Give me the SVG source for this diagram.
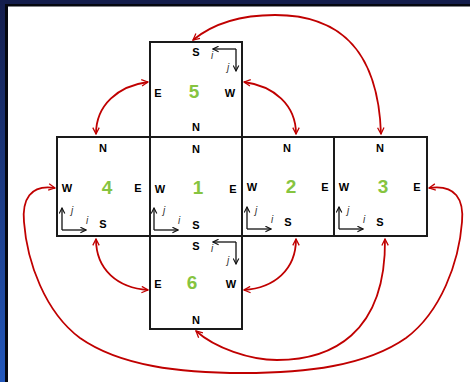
<svg xmlns="http://www.w3.org/2000/svg" width="470" height="382" viewBox="0 0 470 382">
<defs>
<linearGradient id="lg" x1="0" y1="0" x2="0" y2="1">
<stop offset="0" stop-color="#141d4c"/>
<stop offset="1" stop-color="#2358bc"/>
</linearGradient>
<marker id="ra" viewBox="0 0 10 10" refX="9" refY="5" markerWidth="8" markerHeight="8" markerUnits="userSpaceOnUse" orient="auto-start-reverse">
<path d="M1,1 L9,5 L1,9" fill="none" stroke="#c00000" stroke-width="1.6"/>
</marker>
<marker id="ka" viewBox="0 0 10 10" refX="9" refY="5" markerWidth="7" markerHeight="7" markerUnits="userSpaceOnUse" orient="auto">
<path d="M1,1 L9,5 L1,9" fill="none" stroke="#111" stroke-width="1.6"/>
</marker>
</defs>
<style>
.face{fill:#fff;stroke:#1a1a1a;stroke-width:2}
.d{font-family:"Liberation Sans",Arial,sans-serif;font-weight:bold;font-size:11px;fill:#000;text-anchor:middle}
.n{font-family:"Liberation Sans",Arial,sans-serif;font-weight:bold;font-size:19px;fill:#86c440;text-anchor:middle}
.ij{font-family:"Liberation Sans",Arial,sans-serif;font-style:italic;font-size:10px;fill:#333;text-anchor:middle}
.ax{fill:none;stroke:#111;stroke-width:1.3;marker-end:url(#ka)}
.c{fill:none;stroke:#c00000;stroke-width:1.8;marker-start:url(#ra);marker-end:url(#ra)}
</style>
<rect x="0" y="0" width="470" height="382" fill="#fff"/>
<rect x="0" y="0" width="470" height="5" fill="#141d4c"/>
<rect x="0" y="0" width="6" height="382" fill="url(#lg)"/>
<rect x="6" y="4" width="464" height="2.5" fill="#05070f"/>
<rect x="5" y="4" width="3" height="378" fill="#05070f"/>

<g id="face5">
<rect class="face" x="150" y="42" width="92" height="95"/>
<text class="d" x="196" y="56">S</text>
<text class="d" x="158" y="97">E</text>
<text class="n" x="194" y="98">5</text>
<text class="d" x="230" y="97">W</text>
<text class="d" x="196" y="131">N</text>
<path class="ax" d="M236,49 H213"/>
<path class="ax" d="M236,49 V71"/>
<text class="ij" x="212" y="59">i</text>
<text class="ij" x="228" y="71">j</text>
</g>

<g id="face4">
<rect class="face" x="57" y="137" width="93" height="99"/>
<text class="d" x="103" y="152">N</text>
<text class="d" x="67" y="192">W</text>
<text class="n" x="107" y="194">4</text>
<text class="d" x="138" y="192">E</text>
<text class="d" x="103" y="228">S</text>
<path class="ax" d="M62,230 V208"/>
<path class="ax" d="M62,230 H86"/>
<text class="ij" x="72" y="214">j</text>
<text class="ij" x="87" y="224">i</text>
</g>

<g id="face1">
<rect class="face" x="150" y="137" width="92" height="99"/>
<text class="d" x="196" y="153">N</text>
<text class="d" x="160" y="193">W</text>
<text class="n" x="198" y="194">1</text>
<text class="d" x="233" y="193">E</text>
<text class="d" x="196" y="229">S</text>
<path class="ax" d="M154,230 V208"/>
<path class="ax" d="M154,230 H178"/>
<text class="ij" x="164" y="214">j</text>
<text class="ij" x="179" y="224">i</text>
</g>

<g id="face2">
<rect class="face" x="242" y="137" width="92" height="99"/>
<text class="d" x="287" y="152">N</text>
<text class="d" x="252" y="191">W</text>
<text class="n" x="291" y="193">2</text>
<text class="d" x="325" y="191">E</text>
<text class="d" x="288" y="226">S</text>
<path class="ax" d="M247,229 V207"/>
<path class="ax" d="M247,229 H271"/>
<text class="ij" x="256" y="214">j</text>
<text class="ij" x="272" y="223">i</text>
</g>

<g id="face3">
<rect class="face" x="334" y="137" width="93" height="99"/>
<text class="d" x="380" y="152">N</text>
<text class="d" x="344" y="191">W</text>
<text class="n" x="383" y="193">3</text>
<text class="d" x="417" y="191">E</text>
<text class="d" x="380" y="226">S</text>
<path class="ax" d="M339,229 V207"/>
<path class="ax" d="M339,229 H363"/>
<text class="ij" x="348" y="214">j</text>
<text class="ij" x="364" y="223">i</text>
</g>

<g id="face6">
<rect class="face" x="150" y="236" width="92" height="93"/>
<text class="d" x="196" y="250">S</text>
<text class="d" x="158" y="288">E</text>
<text class="n" x="192" y="289">6</text>
<text class="d" x="231" y="288">W</text>
<text class="d" x="196" y="324">N</text>
<path class="ax" d="M236,242 H213"/>
<path class="ax" d="M236,242 V264"/>
<text class="ij" x="212" y="252">i</text>
<text class="ij" x="228" y="264">j</text>
</g>

<g id="connectors">
<path class="c" d="M193,40 C215,22 245,15 275,15 C335,15 378,45 381,134"/>
<path class="c" d="M148,82 C118,86 96,105 96,134"/>
<path class="c" d="M244,82 C274,86 296,105 296,134"/>
<path class="c" d="M96,239 C96,270 118,288 148,290"/>
<path class="c" d="M296,239 C296,270 274,288 244,290"/>
<path class="c" d="M385,239 C386,335 330,360 277,360 C250,360 215,348 196,331"/>
<path class="c" d="M55,188 C30,184 22,200 24,222 C27,262 45,312 80,338 C120,366 180,373 243,373 C306,373 366,366 406,338 C441,312 459,262 462,222 C464,200 456,184 429,188"/>
</g>
</svg>
